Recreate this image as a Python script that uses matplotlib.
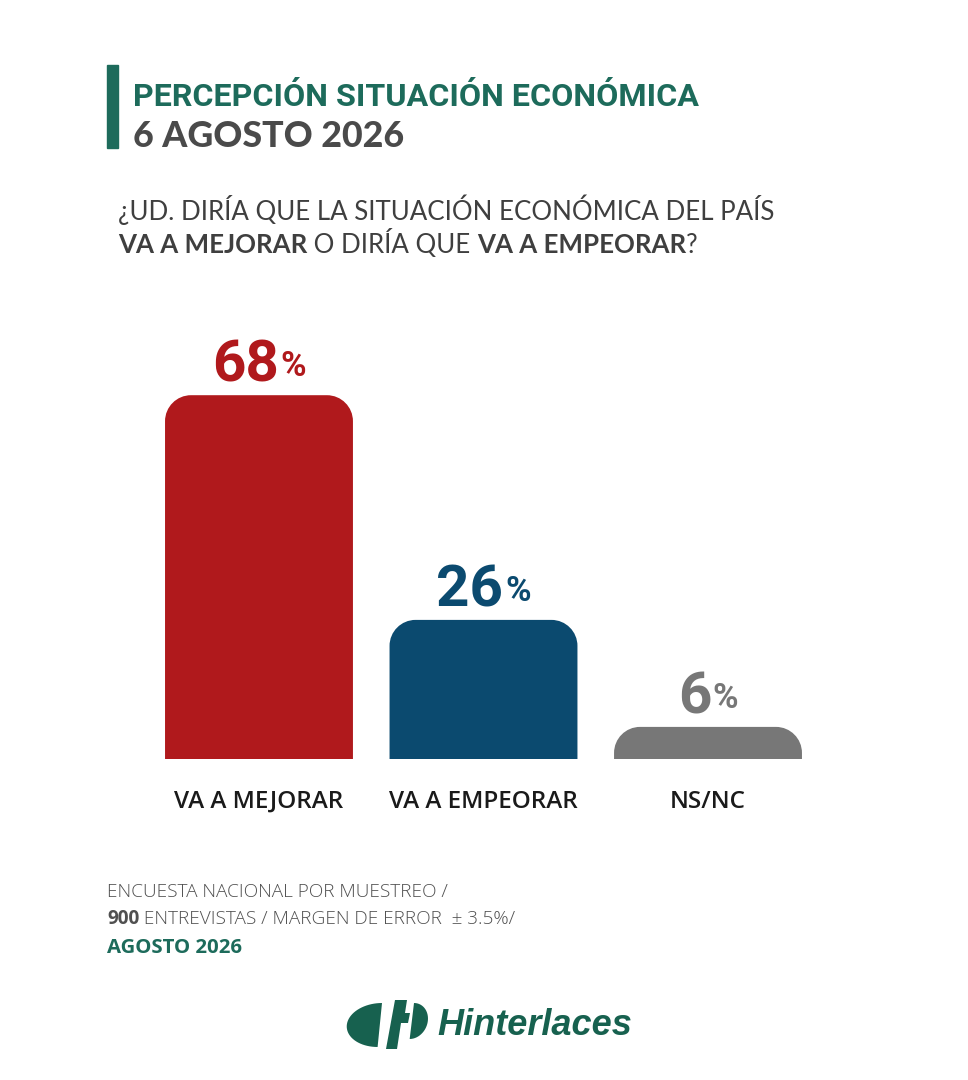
import numpy as np
import matplotlib
matplotlib.use('Agg')
import matplotlib.pyplot as plt
from matplotlib import font_manager
from matplotlib.path import Path
from matplotlib.patches import PathPatch, Rectangle, Polygon

categories = ['VA A MEJORAR', 'VA A EMPEORAR', 'NS/NC']
values = [68, 26, 6]
bar_colors = ['#b0191c', '#0b4a6f', '#777777']

title = 'PERCEPCIÓN SITUACIÓN ECONÓMICA'
subtitle = '6 AGOSTO 2026'
question_1 = '¿UD. DIRÍA QUE LA SITUACIÓN ECONÓMICA DEL PAÍS'
question_2 = [('VA A MEJORAR', 'bold'), (' O DIRÍA QUE ', 'normal'),
              ('VA A EMPEORAR', 'bold'), ('?', 'normal')]
footer_1 = 'ENCUESTA NACIONAL POR MUESTREO /'
footer_2 = [('900', 'bold'), (' ENTREVISTAS / MARGEN DE ERROR  ± 3.5%/', 'light')]
footer_3 = 'AGOSTO 2026'
brand = 'Hinterlaces'

TEAL = '#1d6b5b'
W, H = 968, 1080


def pick(*names):
    for n in names:
        try:
            font_manager.findfont(font_manager.FontProperties(family=n),
                                  fallback_to_default=False)
            return n
        except Exception:
            continue
    return 'DejaVu Sans'


COND = pick('Liberation Sans Narrow', 'DejaVu Sans Condensed', 'Roboto')
GEO = pick('Lato', 'Open Sans')
BODY = pick('Open Sans', 'Lato')

fig = plt.figure(figsize=(W / 100, H / 100), dpi=100)
fig.patch.set_facecolor('white')
renderer = fig.canvas.get_renderer()


def fx(x):
    return x / W


def fy(y):
    return 1 - y / H


def width_px(t):
    return t.get_window_extent(renderer).width


def fit(t, target):
    t.set_fontsize(t.get_fontsize() * target / width_px(t))


def runs(x, y, parts, size, family, color):
    # consecutive pieces of text with mixed weights on one baseline
    for s, w in parts:
        t = fig.text(fx(x), fy(y), s, fontsize=size, family=family,
                     weight=w, color=color, va='baseline', ha='left')
        x += width_px(t)


# header
fig.patches.append(Rectangle((fx(107), fy(148)), fx(11), 83 / H,
                             transform=fig.transFigure, color=TEAL))
t = fig.text(fx(133), fy(106), title, family=COND, weight='bold',
             fontsize=30, color=TEAL, va='baseline')
fit(t, 565)
t = fig.text(fx(133), fy(147), subtitle, family=GEO, weight='black',
             fontsize=24, color='#4a4a4a', va='baseline')
fit(t, 271)

t = fig.text(fx(118), fy(220), question_1, family=GEO, weight='normal',
             fontsize=17, color='#3f3f3f', va='baseline')
fit(t, 657)
qsize = t.get_fontsize()
runs(118, 253, question_2, qsize, GEO, '#3f3f3f')

# bars
ax = fig.add_axes([fx(140), fy(759), 687 / W, 428 / H])
x = np.arange(len(categories))
bars = ax.bar(x, values, width=0.837, color=bar_colors)
ax.set_xlim(-0.53, 2.53)
ax.set_ylim(0, 80)

# rounded top corners, radius in pixels converted to data units
rx = 26 / (687 / 3.06)
ry = 26 / (428 / 80)
k = 0.5523
for rect in bars:
    x0, w, h = rect.get_x(), rect.get_width(), rect.get_height()
    x1 = x0 + w
    r_y = min(ry, h)
    verts = [(x0, 0), (x0, h - r_y),
             (x0, h - r_y + k * r_y), (x0 + rx - k * rx, h), (x0 + rx, h),
             (x1 - rx, h),
             (x1 - rx + k * rx, h), (x1, h - r_y + k * r_y), (x1, h - r_y),
             (x1, 0), (x0, 0)]
    codes = [Path.MOVETO, Path.LINETO,
             Path.CURVE4, Path.CURVE4, Path.CURVE4,
             Path.LINETO,
             Path.CURVE4, Path.CURVE4, Path.CURVE4,
             Path.LINETO, Path.CLOSEPOLY]
    ax.add_patch(PathPatch(Path(verts, codes), facecolor=rect.get_facecolor(),
                           edgecolor='none'))
    rect.set_visible(False)

for xi, v, c in zip(x, values, bar_colors):
    num = ax.annotate(str(v), (xi, v), xytext=(0, 10), textcoords='offset points',
                      ha='right', va='baseline', family=COND, weight='bold',
                      fontsize=42, color=c)
    pct = ax.annotate('%', (xi, v), xytext=(0, 13.5), textcoords='offset points',
                      ha='left', va='baseline', family=COND, weight='bold',
                      fontsize=25, color=c)
    wn, wp = width_px(num), width_px(pct)
    shift = (wn - wp) / 2 * 72 / 100
    num.set_position((shift - 0.5, 10))
    pct.set_position((shift + 0.5, 13.5))

ax.set_xticks(x, categories)
ax.tick_params(axis='x', length=0, pad=22, labelsize=17.5, labelcolor='#1a1a1a')
for lab in ax.get_xticklabels():
    lab.set_family(BODY)
    lab.set_weight('semibold')
ax.set_yticks([])
for s in ax.spines.values():
    s.set_visible(False)
ax.set_facecolor('none')

# footer
t = fig.text(fx(107), fy(897), footer_1, family=BODY, weight='light',
             fontsize=12, color='#505050', va='baseline')
fit(t, 340)
fsize = t.get_fontsize()
runs(107, 924, footer_2, fsize, BODY, '#505050')
t = fig.text(fx(107), fy(953), footer_3, family=BODY, weight='bold',
             fontsize=fsize, color=TEAL, va='baseline')
fit(t, 135)

# logo
LOGO = '#17614f'
lax = fig.add_axes([fx(340), fy(1055), 100 / W, 65 / H])
lax.set_xlim(340, 440)
lax.set_ylim(1055, 990)
lax.axis('off')
th = np.linspace(np.pi / 2, 3 * np.pi / 2, 40)
left = np.column_stack([382 + 33 * np.cos(th), 1025 - 22 * np.sin(th)])
left[:, 0] += (left[:, 1] - 1003) * -0.1
lax.add_patch(Polygon(left, color=LOGO, lw=0))
lax.add_patch(Polygon([(395, 1000), (407, 1000), (405, 1013), (410, 1013),
                       (408, 1023), (401, 1023), (397, 1049), (386, 1049)],
                      color=LOGO, lw=0))
th2 = np.linspace(-np.pi / 2, np.pi / 2, 30)
right = np.column_stack([414 + 16 * np.cos(th2), 1021 - 18 * np.sin(th2)])
right[:, 0] += (right[:, 1] - 1003) * -0.12
lax.add_patch(Polygon(right, color=LOGO, lw=0))

t = fig.text(fx(437), fy(1035), brand, family=pick('Liberation Sans', 'DejaVu Sans'),
             weight='bold', style='italic', fontsize=22, color=LOGO, va='baseline')
fit(t, 195)

fig.savefig('out.png', dpi=100, facecolor='white')
